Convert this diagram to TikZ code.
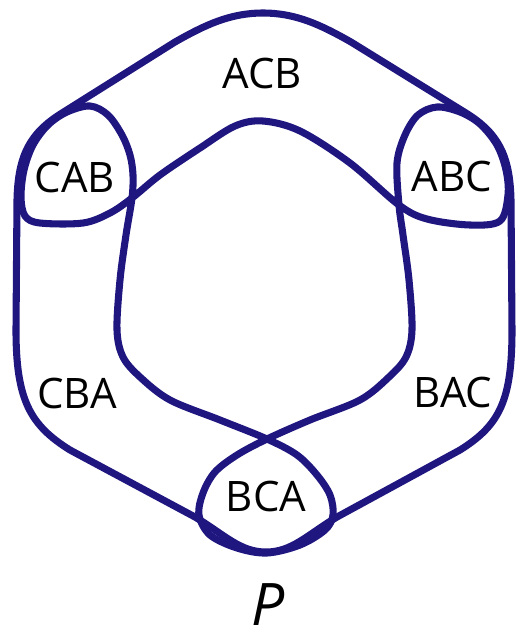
\documentclass[tikz,border=0pt]{standalone}
\usepackage{fontspec}
\setmainfont{Open Sans}
\definecolor{knot}{RGB}{32,22,128}
\begin{document}
\begin{tikzpicture}[x=0.75pt,y=-0.75pt,
  strand/.style={draw=knot,line width=5.3pt,line join=round,line cap=round},
  lbl/.style={inner sep=0pt,font=\fontsize{31.5}{36}\selectfont}]
\useasboundingbox (0,0) rectangle (516,637);
% outer loop
\draw[strand] (263,13)
  .. controls (230,13) and (205,25) .. (175,42) -- (62,113)
  .. controls (30,133) and (18,155) .. (17,200) -- (16,330)
  .. controls (16,400) and (30,425) .. (70,450) -- (195,517)
  .. controls (225,535) and (240,552) .. (266,552)
  .. controls (292,552) and (307,535) .. (337,517) -- (460,450)
  .. controls (500,425) and (512,400) .. (512,330) -- (511,200)
  .. controls (510,155) and (498,133) .. (466,113) -- (351,42)
  .. controls (321,25) and (296,13) .. (263,13) -- cycle;
% inner loop with three twists
\draw[strand] plot[smooth cycle,tension=0.55] coordinates {
  (263,121) (300,131) (350,163) (399,205) (427,219) (470,225) (500,221)
  (508,195) (506,170) (497,145) (480,124) (460,112) (437,107) (418,115)
  (405,135) (397,163) (399,205) (403,235) (409,280) (412,330) (406,357)
  (389,377) (360,400) (310,420) (267,439) (237,455) (215,472) (203,493)
  (199,515) (210,535) (237,548) (267,553) (300,545) (325,530) (333,515)
  (330,495) (317,475) (297,455) (267,439) (220,420) (170,400) (140,377)
  (123,357) (117,330) (120,280) (126,235) (132,198) (133,175) (130,155)
  (122,135) (108,115) (90,106) (67,112) (48,125) (33,145) (24,170)
  (21,197) (25,216) (40,223) (83,223) (110,213) (132,198) (160,175)
  (200,148) (235,126)};
\node[lbl] (acb) at (262,73) {ACB};
\node[lbl] (cab) at (75,177) {CAB};
\node[lbl] (abc) at (452,176) {ABC};
\node[lbl] (cba) at (77,393) {CBA};
\node[lbl] (bac) at (453,392) {BAC};
\node[lbl] (bca) at (266,496) {BCA};
\node[inner sep=0pt,font=\fontsize{44}{48}\selectfont\itshape] (p) at (268,605) {P};
\end{tikzpicture}
\end{document}
